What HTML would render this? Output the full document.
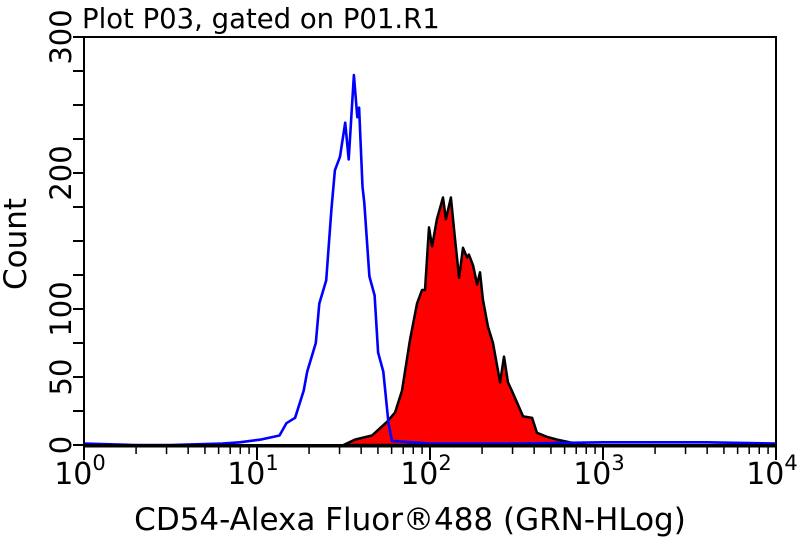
<!DOCTYPE html>
<html><head><meta charset="utf-8"><style>
html,body{margin:0;padding:0;background:#fff;}
svg{display:block;font-family:"DejaVu Sans","Liberation Sans",sans-serif;}
</style></head><body>
<svg id="chart" width="800" height="538" viewBox="0 0 800 538">
<text x="82" y="28" font-size="27.5" fill="#000">Plot P03, gated on P01.R1</text>
<text transform="translate(26,244) rotate(-90)" text-anchor="middle" font-size="31" fill="#000">Count</text>
<text x="410" y="530" text-anchor="middle" font-size="31" fill="#000">CD54-Alexa Fluor®488 (GRN-HLog)</text>
<g id="plot"></g>
</svg>
<script>
const blueLog=[0,0.3,0.5,0.8,0.9,1.02,1.13,1.17,1.22,1.27,1.29,1.34,1.36,1.40,1.43,1.45,1.48,1.51,1.53,1.56,1.58,1.59,1.61,1.62,1.65,1.68,1.70,1.73,1.76,1.78,2.0,2.5,3.0,3.3,3.6,4.0];
const blueCount=[1,0,0,1,2,4,7,16,20,40,54,75,104,121,173,202,212,237,210,272,241,248,190,178,124,110,68,54,16,3,1,1,2,2,2,1];
const redLog=[1.50,1.566,1.665,1.751,1.798,1.838,1.884,1.925,1.954,1.971,1.994,2.012,2.040,2.075,2.092,2.121,2.145,2.168,2.191,2.214,2.225,2.249,2.272,2.289,2.306,2.335,2.364,2.405,2.428,2.451,2.480,2.538,2.590,2.618,2.676,2.734,2.809,2.9];
const redCount=[0,4,7,17,24,40,77,104,114,114,160,146,166,182,166,182,151,123,145,138,140,132,118,127,107,87,75,46,65,46,38,21,20,9,6,4,2,0];
const yTickVals=[0,25,50,75,100,125,150,175,200,225,250,275,300];
const yLabels=["0","50","100","200","300"];
const xDecades=[0,1,2,3,4];

const L=84,R=776,T=37,B=445;
const xs=v=>L+(v-0)/(4-0)*(R-L);
const ys=c=>B-c/300*(B-T);
const NS="http://www.w3.org/2000/svg";
const g=document.getElementById('plot');
function mk(tag,attrs){const e=document.createElementNS(NS,tag);for(const k in attrs)e.setAttribute(k,attrs[k]);g.appendChild(e);return e;}

let d='M'+xs(redLog[0])+','+ys(0);
redLog.forEach((v,i)=>{d+=' L'+xs(v).toFixed(1)+','+ys(redCount[i]).toFixed(1);});
d+=' L'+xs(redLog[redLog.length-1])+','+ys(0)+' Z';
const red=mk('path',{d:d,fill:'#ff0000',stroke:'#000','stroke-width':2.5,'stroke-linejoin':'round'});



let bd='';
blueLog.forEach((v,i)=>{bd+=(i?' L':'M')+xs(v).toFixed(1)+','+ys(blueCount[i]).toFixed(1);});
const blue=mk('path',{d:bd,fill:'none',stroke:'#0000ff','stroke-width':2.6,'stroke-linejoin':'round'});



const fr=mk('rect',{x:L,y:T,width:R-L,height:B-T,fill:'none',stroke:'#000','stroke-width':2});


mk('line',{x1:L,y1:B+1,x2:R,y2:B+1,stroke:'#000','stroke-width':3});

yTickVals.forEach(v=>{
  const t=mk('line',{x1:L-11,x2:L,y1:ys(v),y2:ys(v),stroke:'#000','stroke-width':2});
  
  
});
yLabels.forEach(s=>{
  const y=ys(+s);
  const t=mk('text',{transform:'translate(71,'+y+') rotate(-90)','text-anchor':'middle','font-size':29,fill:'#000'});
  t.textContent=s;
  
  
});

xDecades.forEach((dec,i)=>{
  const x=xs(dec);
  const t=mk('line',{x1:x,x2:x,y1:B,y2:B+15,stroke:'#000','stroke-width':2});
  
  
  const lab=mk('text',{x:x-4,y:484,'text-anchor':'middle','font-size':30,fill:'#000'});
  lab.innerHTML='10<tspan dy="-14" font-size="21">'+dec+'</tspan>';
  
  
  if(i<xDecades.length-1){
    for(let m=2;m<=9;m++){
      const mx=xs(dec+Math.log10(m));
      const mt=mk('line',{x1:mx,x2:mx,y1:B,y2:B+9,stroke:'#000','stroke-width':1.5});
      
      
    }
  }
});
</script>
</body></html>
